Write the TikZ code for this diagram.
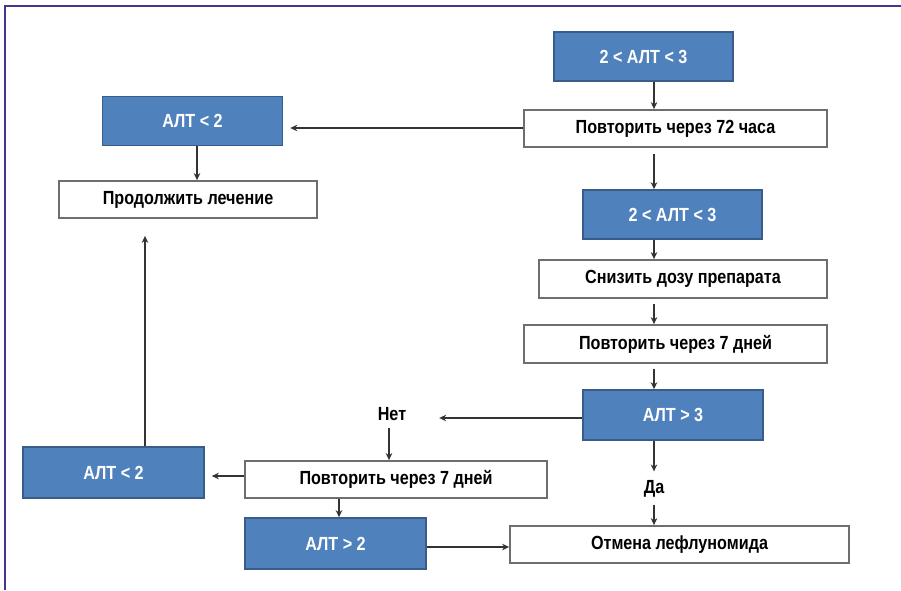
\documentclass[tikz,border=0pt]{standalone}
\usepackage{fontspec}
\setmainfont{Liberation Sans}[FakeStretch=0.85]
\usetikzlibrary{arrows.meta,calc}
\definecolor{frameC}{HTML}{4B3190}
\definecolor{blueF}{HTML}{4F81BD}
\definecolor{blueD}{HTML}{385D8A}
\definecolor{lineC}{HTML}{333333}
\definecolor{boxD}{HTML}{6E6E6E}
\tikzset{
  bluebox/.style={rectangle, fill=blueF, draw=blueD, line width=1.6pt, text=white, font=\bfseries\fontsize{19}{22}\selectfont, inner sep=0pt},
  whitebox/.style={rectangle, fill=white, draw=boxD, line width=1.8pt, text=black, font=\bfseries\fontsize{19}{22}\selectfont, inner sep=0pt},
  lbl/.style={text=black, font=\bfseries\fontsize{19}{22}\selectfont, inner sep=0pt},
  arr/.style={draw=lineC, line width=1.9pt, -{Stealth[length=7pt,width=6.5pt]}},
}
\begin{document}
\begin{tikzpicture}[x=1pt,y=-1pt]
\useasboundingbox (0,0) rectangle (901,590);
\fill[white] (0,0) rectangle (901,590);
% frame (top and left only)
\draw[frameC, line width=2.2pt] (5,590) -- (5,6.2) -- (901,6.2);

% boxes
\node[bluebox, minimum width=179pt, minimum height=49pt] (b1) at (643.5,56.5) {2 < АЛТ < 3};
\node[whitebox, minimum width=303pt, minimum height=37pt] (b2) at (675.5,128.5) {Повторить через 72 часа};
\node[bluebox, minimum width=180pt, minimum height=49pt] (b11) at (192.5,121) {АЛТ < 2};
\node[whitebox, minimum width=258pt, minimum height=37pt] (b12) at (188,199.5) {Продолжить лечение};
\node[bluebox, minimum width=179pt, minimum height=49pt] (b3) at (672.5,214.5) {2 < АЛТ < 3};
\node[whitebox, minimum width=288pt, minimum height=38pt] (b4) at (683,279) {Снизить дозу препарата};
\node[whitebox, minimum width=303pt, minimum height=38pt] (b5) at (675.5,344) {Повторить через 7 дней};
\node[bluebox, minimum width=180pt, minimum height=50pt] (b6) at (673,415) {АЛТ > 3};
\node[whitebox, minimum width=302pt, minimum height=37pt] (b9) at (396,479.5) {Повторить через 7 дней};
\node[bluebox, minimum width=181pt, minimum height=51pt] (b10) at (113.5,472.5) {АЛТ < 2};
\node[bluebox, minimum width=181pt, minimum height=51pt] (b8) at (335.5,543.5) {АЛТ > 2};
\node[whitebox, minimum width=339pt, minimum height=37pt] (b7) at (679.5,544.5) {Отмена лефлуномида};

% labels
\node[lbl] (no) at (392,414) {Нет};
\node[lbl] (yes) at (654,489) {Да};

% guide coordinates
\coordinate (cx) at (654,0);
\coordinate (lx) at (197,0);
\coordinate (nx) at (389,0);
\coordinate (dx) at (339,0);
\coordinate (ux) at (145,0);
\coordinate (hy) at (0,128);

% connectors
\draw[arr] (b1.south -| cx) -- (b2.north -| cx);
\draw[arr] (b2.west |- hy) -- ([xshift=7pt]b11.east |- hy);
\draw[arr] ([yshift=-6pt]b2.south -| cx) -- (b3.north -| cx);
\draw[arr] (b11.south -| lx) -- (b12.north -| lx);
\draw[arr] (b3.south -| cx) -- (b4.north -| cx);
\draw[arr] ([yshift=-5pt]b4.south -| cx) -- (b5.north -| cx);
\draw[arr] ([yshift=-5pt]b5.south -| cx) -- (b6.north -| cx);
\draw[arr] (b6.west |- 0,418) -- ([xshift=-143pt]b6.west |- 0,418);
\draw[arr] ([yshift=-7pt]no.south -| nx) -- (b9.north -| nx);
\draw[arr] (b6.south -| cx) -- ([yshift=9pt]yes.north -| cx);
\draw[arr] ([yshift=-7pt]yes.south -| cx) -- (b7.north -| cx);
\draw[arr] (b9.west |- 0,476) -- ([xshift=7pt]b10.east |- 0,476);
\draw[arr] (b9.south -| dx) -- (b8.north -| dx);
\draw[arr] (b10.north -| ux) -- ([yshift=-17pt]b12.south -| ux);
\draw[arr] (b8.east |- 0,547) -- (b7.west |- 0,547);
\end{tikzpicture}
\end{document}
